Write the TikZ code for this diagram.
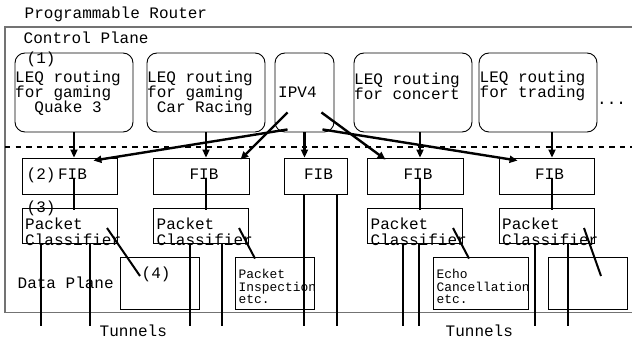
\documentclass[tikz,border=0pt]{standalone}
\usepackage{fontspec}
\setmonofont{Liberation Mono}
\usetikzlibrary{arrows.meta,calc}
\begin{document}
\begin{tikzpicture}[x=1pt,y=-1pt,
  big/.style={font=\ttfamily\fontsize{16}{15}\selectfont, inner sep=0pt, align=left, anchor=west},
  bigc/.style={font=\ttfamily\fontsize{16}{16}\selectfont, inner sep=0pt, align=left, anchor=west},
  small/.style={font=\ttfamily\fontsize{12.9}{12.5}\selectfont, inner sep=0pt, align=left, anchor=west},
  ctrl/.style={draw, rounded corners=10pt, line width=0.9pt, minimum height=79pt, inner sep=0pt},
  box/.style={draw, line width=0.9pt, inner sep=0pt},
  fib/.style={box, minimum height=36pt},
  cls/.style={box, minimum height=35pt, minimum width=95pt},
  low/.style={box, minimum height=52pt},
  heavy/.style={line width=2.6pt},
  diag/.style={line width=2pt},
  arr/.style={line width=2.4pt, -{Triangle[length=8pt,width=7pt]}},
  frame/.style={draw=black!55, line width=1.2pt}]
\useasboundingbox (0,0) rectangle (632,339);

% outer frame
\draw[frame] (632,27) -- (5,27) -- (5,312.5) -- (632,312.5);

% titles
\node[big] (title) at (24.5,14) {Programmable Router};
\node[big] (cplane) at (23.5,38) {Control Plane};
\node[big] (dplane) at (17.5,283) {Data Plane};
\node[big] (tun1) at (99.5,330.5) {Tunnels};
\node[big] (tun2) at (445.5,330.5) {Tunnels};

% control plane boxes
\node[ctrl, minimum width=118pt] (c1) at (74,92.5) {};
\node[ctrl, minimum width=118pt] (c2) at (206,92.5) {};
\node[ctrl, minimum width=59pt] (ip) at (304.5,92.5) {};
\node[ctrl, minimum width=118pt] (c4) at (413,92.5) {};
\node[ctrl, minimum width=118pt] (c5) at (538,92.5) {};

\node[big] (n1) at (26.5,59) {(1)};
\node[big] (tc1) at (15,93.5) {LEQ routing\\for gaming\\\phantom{xx}Quake 3};
\node[big] (tc2) at (147,93.5) {LEQ routing\\for gaming\\\phantom{x}Car Racing};
\node[big] (tip) at (278,92) {IPV4};
\node[big] (tc4) at (354,86) {LEQ routing\\for concert};
\node[big] (tc5) at (479.5,86) {LEQ routing\\for trading};
\node[big, anchor=base west] (dots) at (597,105) {...};

% dashed separator
\draw[line width=2.6pt, dash pattern=on 5.3pt off 5.3pt] (5,147) -- (632,147);

% FIB boxes
\node[fib, minimum width=95pt] (f1) at (69.5,176) {};
\node[fib, minimum width=96pt] (f2) at (201,176) {};
\node[fib, minimum width=63pt] (f3) at (315.5,176) {};
\node[fib, minimum width=96pt] (f4) at (415,176) {};
\node[fib, minimum width=95pt] (f5) at (546.5,176) {};
\node[big, anchor=center] (fl1) at ($(f1.center)+(3,-1.5)$) {FIB};
\node[big, anchor=center] (fl2) at ($(f2.center)+(3,-1.5)$) {FIB};
\node[big, anchor=center] (fl3) at ($(f3.center)+(3,-1.5)$) {FIB};
\node[big, anchor=center] (fl4) at ($(f4.center)+(3,-1.5)$) {FIB};
\node[big, anchor=center] (fl5) at ($(f5.center)+(3,-1.5)$) {FIB};
\node[big] (n2) at (26.5,175) {(2)};

% classifiers
\node[cls] (p1) at (69.5,225.5) {};
\node[cls] (p2) at (201,225.5) {};
\node[cls] (p4) at (415,225.5) {};
\node[cls] (p5) at (546.5,225.5) {};
\node[bigc] (tp1) at (25,232) {Packet\\Classifier};
\node[bigc] (tp2) at (156.5,232) {Packet\\Classifier};
\node[bigc] (tp4) at (370.5,232) {Packet\\Classifier};
\node[bigc] (tp5) at (502,232) {Packet\\Classifier};
\node[big] (n3) at (26.5,208) {(3)};

% data plane boxes
\node[low, minimum width=79pt] (l1) at (159.5,283) {};
\node[low, minimum width=79pt] (l2) at (274.5,283) {};
\node[low, minimum width=95pt] (l3) at (480.5,283) {};
\node[low, minimum width=79pt] (l4) at (587.5,283) {};
\node[big] (n4) at (141.5,274) {(4)};
\node[small] (tl2) at (238.5,286.5) {Packet\\Inspection\\etc.};
\node[small] (tl3) at (436.5,286.5) {Echo\\Cancellation\\etc.};

% control -> FIB arrows
\draw[arr] (c1.south) -- ($(f1.north)+(4.5,0)$);
\draw[arr] (c2.south) -- ($(f2.north)+(5,0)$);
\draw[arr] (ip.south) -- ($(f3.north)+(-11,0)$);
\draw[arr] ($(c4.south)+(7,0)$) -- ($(f4.north)+(5,0)$);
\draw[arr] ($(c5.south)+(14,0)$) -- ($(f5.north)+(5.5,0)$);

% IPV4 diagonal arrows
\coordinate (ia) at ($(ip.south west)+(13,-20)$);
\coordinate (ib) at ($(ip.south west)+(13,-3)$);
\coordinate (ic) at ($(ip.south east)+(-13,-20)$);
\coordinate (id) at ($(ip.south east)+(-12,-3)$);
\draw[arr] (ia) -- ($(f2.north east)+(-9,2)$);
\draw[arr] (ib) -- ($(f1.north east)+(-24,3)$);
\draw[arr] (ic) -- ($(f4.north west)+(19,2)$);
\draw[arr] (id) -- ($(f5.north west)+(19,3)$);

% FIB -> classifier
\draw[heavy] ($(f1.center)+(4.5,2)$) -- ($(p1.north)+(4.5,2)$);
\draw[heavy] ($(f2.center)+(5,2)$) -- ($(p2.north)+(5,2)$);
\draw[heavy] ($(f4.center)+(5,2)$) -- ($(p4.north)+(5,2)$);
\draw[heavy] ($(f5.center)+(5.5,2)$) -- ($(p5.north)+(5.5,2)$);

% classifier -> processing boxes
\draw[diag] ($(p1.center)+(37.5,2.5)$) -- ($(l1.center)+(-19.5,-7)$);
\draw[diag] ($(p2.center)+(38,2.5)$) -- ($(l2.north)+(-19.5,2)$);
\draw[diag] ($(p4.center)+(38,2.5)$) -- ($(l3.north)+(-11.5,2)$);
\draw[diag] ($(p5.center)+(37.5,2.5)$) -- ($(l4.center)+(13.5,-7)$);

% tunnels
\coordinate (e1) at (41,326);
\coordinate (e2) at (90,326);
\coordinate (e3) at (190,326);
\coordinate (e4) at (222,326);
\coordinate (e5) at (304,326);
\coordinate (e6) at (337,326);
\coordinate (e7) at (403,326);
\coordinate (e8) at (419,326);
\coordinate (e9) at (535,326);
\coordinate (e10) at (568,326);
\draw[heavy] (p1.south -| e1) -- (e1);
\draw[heavy] (p1.south -| e2) -- (e2);
\draw[heavy] (p2.south -| e3) -- (e3);
\draw[heavy] (p2.south -| e4) -- (e4);
\draw[heavy] (f3.south -| e5) -- (e5);
\draw[heavy] (f3.south -| e6) -- (e6);
\draw[heavy] (p4.south -| e7) -- (e7);
\draw[heavy] (p4.south -| e8) -- (e8);
\draw[heavy] (p5.south -| e9) -- (e9);
\draw[heavy] (p5.south -| e10) -- (e10);
\end{tikzpicture}
\end{document}
